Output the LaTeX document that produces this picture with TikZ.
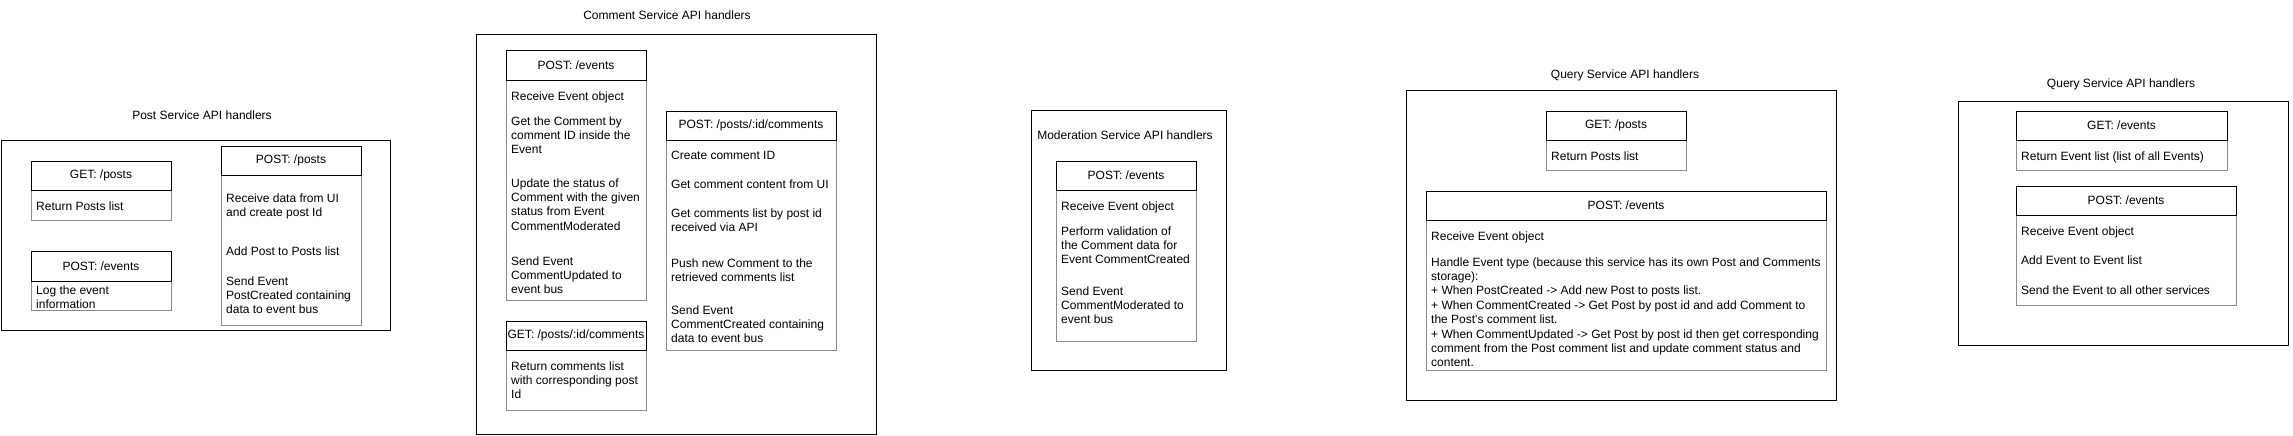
\documentclass[tikz,border=0pt]{standalone}
\usepackage{fontspec}
\setmainfont{Liberation Sans}
\newcommand\dfont{\fontsize{12}{14.4}\selectfont}
\tikzset{
  frm/.style={draw=black, line width=1pt, anchor=north west, inner sep=0pt, outer sep=0pt},
  hdr/.style={draw=black, line width=1pt, anchor=north west, inner sep=0pt, outer sep=0pt, font=\dfont},
  bdy/.style={draw=black!45, line width=1pt, anchor=north west, inner sep=0pt, outer sep=0pt},
  itm/.style={anchor=base west, inner sep=0pt, align=left, font=\dfont},
  ttl/.style={inner sep=0pt, font=\dfont},
}
\begin{document}
\begin{tikzpicture}[x=1pt,y=-1pt]
\useasboundingbox (0,0) rectangle (2293,436);
% (item nodes are anchored at the baseline of their LAST line)
% ---------------- Post Service
\node[ttl] (pt) at (202,115) {Post Service API handlers};
\node[frm, minimum width=389pt, minimum height=190pt] (pf) at (1,140) {};
\node[bdy, minimum width=140pt, minimum height=30pt] (pgb) at (31,190) {};
\node[hdr, minimum width=140pt, minimum height=29pt] (pgh) at (31,161) {GET: /posts};
\node[itm] (pg1) at (36,210) {Return Posts list};
\node[bdy, minimum width=140pt, minimum height=29pt] (peb) at (31,281) {};
\node[hdr, minimum width=140pt, minimum height=30pt] (peh) at (31,251) {POST: /events};
\node[itm] (pe1) at (36,308.4) {Log the event\\information};
\node[bdy, minimum width=140pt, minimum height=150pt] (ppb) at (221,175) {};
\node[hdr, minimum width=140pt, minimum height=29pt] (pph) at (221,146) {POST: /posts};
\node[itm] (pp1) at (226,216.4) {Receive data from UI\\and create post Id};
\node[itm] (pp2) at (226,255) {Add Post to Posts list};
\node[itm] (pp3) at (226,313.8) {Send Event\\PostCreated containing\\data to event bus};
% ---------------- Comment Service
\node[ttl] (ct) at (667,15) {Comment Service API handlers};
\node[frm, minimum width=400pt, minimum height=399pt] (cf) at (476,35) {};
\node[bdy, minimum width=140pt, minimum height=220pt] (ceb) at (506,80) {};
\node[hdr, minimum width=140pt, minimum height=29pt] (ceh) at (506,51) {POST: /events};
\node[itm] (ce1) at (511,100) {Receive Event object};
\node[itm] (ce2) at (511,153.8) {Get the Comment by\\comment ID inside the\\Event};
\node[itm] (ce3) at (511,230.2) {Update the status of\\Comment with the given\\status from Event\\CommentModerated};
\node[itm] (ce4) at (511,293.8) {Send Event\\CommentUpdated to\\event bus};
\node[bdy, minimum width=140pt, minimum height=60pt] (cgb) at (506,350) {};
\node[hdr, minimum width=140pt, minimum height=29pt] (cgh) at (506,321) {GET: /posts/:id/comments};
\node[itm] (cg1) at (511,398.8) {Return comments list\\with corresponding post\\Id};
\node[bdy, minimum width=170pt, minimum height=210pt] (cpb) at (666,140) {};
\node[hdr, minimum width=170pt, minimum height=29pt] (cph) at (666,111) {POST: /posts/:id/comments};
\node[itm] (cp1) at (671,159) {Create comment ID};
\node[itm] (cp2) at (671,188) {Get comment content from UI};
\node[itm] (cp3) at (671,231.4) {Get comments list by post id\\received via API};
\node[itm] (cp4) at (671,281.4) {Push new Comment to the\\retrieved comments list};
\node[itm] (cp5) at (671,342.8) {Send Event\\CommentCreated containing\\data to event bus};
% ---------------- Moderation Service
\node[frm, minimum width=195pt, minimum height=260pt] (mf) at (1031,110) {};
\node[ttl] (mt) at (1125,135) {Moderation Service API handlers};
\node[bdy, minimum width=140pt, minimum height=151pt] (meb) at (1056,190) {};
\node[hdr, minimum width=140pt, minimum height=29pt] (meh) at (1056,161) {POST: /events};
\node[itm] (me1) at (1061,210) {Receive Event object};
\node[itm] (me2) at (1061,263.8) {Perform validation of\\the Comment data for\\Event CommentCreated};
\node[itm] (me3) at (1061,323.8) {Send Event\\CommentModerated to\\event bus};
% ---------------- Query Service
\node[ttl] (qt) at (1625,75) {Query Service API handlers};
\node[frm, minimum width=430pt, minimum height=310pt] (qf) at (1406,90) {};
\node[bdy, minimum width=140pt, minimum height=30pt] (qgb) at (1546,140) {};
\node[hdr, minimum width=140pt, minimum height=29pt] (qgh) at (1546,111) {GET: /posts};
\node[itm] (qg1) at (1551,160) {Return Posts list};
\node[bdy, minimum width=400pt, minimum height=150pt] (qeb) at (1426,220) {};
\node[hdr, minimum width=400pt, minimum height=29pt] (qeh) at (1426,191) {POST: /events};
\node[itm] (qe1) at (1431,240) {Receive Event object};
\node[itm] (qe2) at (1431,366.8) {Handle Event type (because this service has its own Post and Comments\\storage):\\+ When PostCreated -> Add new Post to posts list.\\+ When CommentCreated -> Get Post by post id and add Comment to\\the Post\textquotesingle s comment list.\\+ When CommentUpdated -> Get Post by post id then get corresponding\\comment from the Post comment list and update comment status and\\content.};
% ---------------- Query Service (events)
\node[ttl] (rt) at (2121,84) {Query Service API handlers};
\node[frm, minimum width=330pt, minimum height=244pt] (rf) at (1958,101) {};
\node[bdy, minimum width=211pt, minimum height=30pt] (rgb) at (2016,140) {};
\node[hdr, minimum width=211pt, minimum height=29pt] (rgh) at (2016,111) {GET: /events};
\node[itm] (rg1) at (2021,160) {Return Event list (list of all Events)};
\node[bdy, minimum width=220pt, minimum height=90pt] (reb) at (2016,215) {};
\node[hdr, minimum width=220pt, minimum height=29pt] (reh) at (2016,186) {POST: /events};
\node[itm] (re1) at (2021,235) {Receive Event object};
\node[itm] (re2) at (2021,264) {Add Event to Event list};
\node[itm] (re3) at (2021,294) {Send the Event to all other services};
\end{tikzpicture}
\end{document}
